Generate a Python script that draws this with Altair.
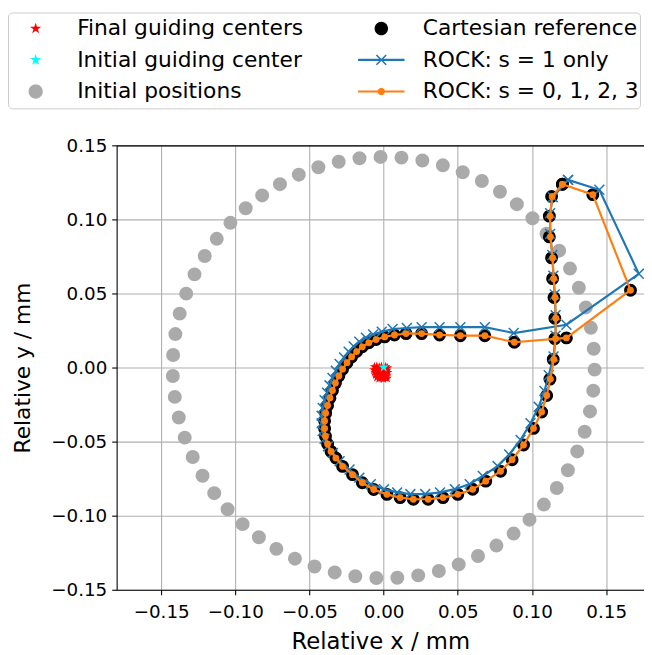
import math
import altair as alt
import pandas as pd

FONT = "DejaVu Sans"

# ---------------- data ----------------
# initial positions (gray circle)
init_x = [-0.0303, -0.0440, -0.0572, -0.0699, -0.0819, -0.0930, -0.1033, -0.1125, -0.1206, -0.1275,
          -0.1331, -0.1375, -0.1404, -0.1419, -0.1421, -0.1408, -0.1381, -0.1341, -0.1287, -0.1221,
          -0.1142, -0.1052, -0.0951, -0.0841, -0.0723, -0.0598, -0.0466, -0.0330, -0.0191, -0.0049,
          0.0092, 0.0233, 0.0372, 0.0506, 0.0636, 0.0760, 0.0876, 0.0983, 0.1080, 0.1167,
          0.1242, 0.1305, 0.1355, 0.1391, 0.1413, 0.1422, 0.1416, 0.1397, 0.1363, 0.1316,
          0.1256, 0.1183, 0.1098, 0.1003, 0.0898, 0.0784, 0.0662, 0.0533, 0.0399, 0.0261,
          0.0120, -0.0021, -0.0163]
init_y = [0.1389, 0.1352, 0.1302, 0.1238, 0.1162, 0.1075, 0.0977, 0.0869, 0.0753, 0.0629,
          0.0499, 0.0364, 0.0226, 0.0085, -0.0057, -0.0198, -0.0337, -0.0473, -0.0604, -0.0730,
          -0.0848, -0.0957, -0.1057, -0.1146, -0.1224, -0.1290, -0.1343, -0.1383, -0.1409, -0.1421,
          -0.1419, -0.1403, -0.1373, -0.1329, -0.1272, -0.1202, -0.1121, -0.1027, -0.0925, -0.0813,
          -0.0693, -0.0566, -0.0433, -0.0296, -0.0156, -0.0014, 0.0127, 0.0268, 0.0406, 0.0539,
          0.0668, 0.0789, 0.0903, 0.1008, 0.1103, 0.1187, 0.1259, 0.1318, 0.1365, 0.1398,
          0.1417, 0.1422, 0.1413]

# final guiding centers (red stars)
final_x = [-0.0062, -0.0046, -0.0030, -0.0015, 0.0000, 0.0014, 0.0026,
           -0.0066, -0.0051, -0.0036, -0.0021, -0.0007, 0.0008, 0.0022,
           -0.0060, -0.0045, -0.0029, -0.0014, 0.0001, 0.0016, 0.0028,
           -0.0054, -0.0038, -0.0023, -0.0009, 0.0005, 0.0020,
           -0.0046, -0.0031, -0.0016, -0.0002, 0.0012, 0.0024]
final_y = [0.0006, 0.0008, 0.0004, 0.0007, 0.0003, 0.0005, -0.0002,
           -0.0015, -0.0013, -0.0018, -0.0012, -0.0016, -0.0014, -0.0019,
           -0.0032, -0.0036, -0.0030, -0.0034, -0.0031, -0.0037, -0.0033,
           -0.0051, -0.0055, -0.0049, -0.0053, -0.0050, -0.0056,
           -0.0068, -0.0075, -0.0071, -0.0077, -0.0070, -0.0073]

# initial guiding center (cyan star)
gc0_x = [0.0000]
gc0_y = [0.0002]

# Cartesian reference (black dots)
cart_x = [0.1205, 0.1410, 0.1664, 0.1232, 0.0881, 0.0682, 0.0517, 0.0377, 0.0256, 0.0151,
          0.0073, 0.0007, -0.0051, -0.0100, -0.0144, -0.0182, -0.0216, -0.0247, -0.0277, -0.0302,
          -0.0325, -0.0345, -0.0362, -0.0378, -0.0391, -0.0398, -0.0398, -0.0392, -0.0378, -0.0355,
          -0.0322, -0.0277, -0.0210, -0.0144, -0.0067, 0.0022, 0.0111, 0.0200, 0.0300, 0.0400,
          0.0500, 0.0600, 0.0688, 0.0788, 0.0866, 0.0943, 0.1010, 0.1065, 0.1099, 0.1121,
          0.1143, 0.1154, 0.1154, 0.1148, 0.1139, 0.1132, 0.1117, 0.1117, 0.1132, 0.1205]
cart_y = [0.1237, 0.1167, 0.0522, 0.0200, 0.0171, 0.0215, 0.0215, 0.0220, 0.0229, 0.0229,
          0.0220, 0.0207, 0.0189, 0.0167, 0.0140, 0.0108, 0.0072, 0.0033, -0.0011, -0.0057,
          -0.0105, -0.0155, -0.0205, -0.0256, -0.0308, -0.0360, -0.0412, -0.0464, -0.0516, -0.0566,
          -0.0611, -0.0667, -0.0723, -0.0778, -0.0823, -0.0856, -0.0878, -0.0889, -0.0889, -0.0878,
          -0.0856, -0.0822, -0.0767, -0.0700, -0.0622, -0.0523, -0.0411, -0.0300, -0.0189, -0.0078,
          0.0055, 0.0195, 0.0333, 0.0473, 0.0600, 0.0740, 0.0882, 0.1022, 0.1155, 0.1237]

# ROCK: s = 1 only (blue, x markers)
rock1_x = [0.1243, 0.1454, 0.1720, 0.1232, 0.0877, 0.0682, 0.0517, 0.0377, 0.0256, 0.0156,
           0.0060, -0.0013, -0.0071, -0.0120, -0.0164, -0.0202, -0.0236, -0.0267, -0.0297, -0.0322,
           -0.0345, -0.0365, -0.0382, -0.0398, -0.0411, -0.0418, -0.0418, -0.0412, -0.0398, -0.0375,
           -0.0342, -0.0297, -0.0230, -0.0164, -0.0087, 0.0002, 0.0091, 0.0180, 0.0280, 0.0380,
           0.0480, 0.0580, 0.0668, 0.0768, 0.0846, 0.0923, 0.0990, 0.1045, 0.1084, 0.1113,
           0.1145, 0.1159, 0.1159, 0.1153, 0.1144, 0.1137, 0.1122, 0.1122, 0.1140, 0.1243]
rock1_y = [0.1267, 0.1200, 0.0633, 0.0289, 0.0233, 0.0273, 0.0273, 0.0273, 0.0273, 0.0267,
           0.0260, 0.0242, 0.0224, 0.0202, 0.0175, 0.0143, 0.0107, 0.0068, 0.0024, -0.0022,
           -0.0070, -0.0120, -0.0170, -0.0221, -0.0273, -0.0325, -0.0377, -0.0429, -0.0481, -0.0531,
           -0.0576, -0.0632, -0.0688, -0.0743, -0.0788, -0.0821, -0.0843, -0.0854, -0.0854, -0.0843,
           -0.0821, -0.0787, -0.0732, -0.0665, -0.0587, -0.0488, -0.0376, -0.0265, -0.0158, -0.0052,
           0.0075, 0.0215, 0.0353, 0.0493, 0.0620, 0.0760, 0.0902, 0.1042, 0.1150, 0.1267]

# ROCK: s = 0, 1, 2, 3 (orange, dot markers)
rock_x = [0.1205, 0.1410, 0.1664, 0.1232, 0.0881, 0.0682, 0.0517, 0.0377, 0.0256, 0.0151,
          0.0073, 0.0007, -0.0051, -0.0100, -0.0144, -0.0182, -0.0216, -0.0247, -0.0277, -0.0302,
          -0.0325, -0.0345, -0.0362, -0.0378, -0.0391, -0.0398, -0.0398, -0.0392, -0.0378, -0.0355,
          -0.0322, -0.0277, -0.0210, -0.0144, -0.0067, 0.0022, 0.0111, 0.0200, 0.0300, 0.0400,
          0.0500, 0.0600, 0.0688, 0.0788, 0.0866, 0.0943, 0.1010, 0.1065, 0.1099, 0.1124,
          0.1147, 0.1159, 0.1160, 0.1155, 0.1146, 0.1139, 0.1124, 0.1122, 0.1136, 0.1205]
rock_y = [0.1237, 0.1167, 0.0522, 0.0200, 0.0171, 0.0215, 0.0215, 0.0220, 0.0229, 0.0229,
          0.0220, 0.0207, 0.0189, 0.0167, 0.0140, 0.0108, 0.0072, 0.0033, -0.0011, -0.0057,
          -0.0105, -0.0155, -0.0205, -0.0256, -0.0308, -0.0360, -0.0412, -0.0464, -0.0516, -0.0566,
          -0.0611, -0.0667, -0.0723, -0.0778, -0.0823, -0.0856, -0.0878, -0.0889, -0.0889, -0.0878,
          -0.0856, -0.0822, -0.0767, -0.0700, -0.0622, -0.0523, -0.0411, -0.0300, -0.0189, -0.0078,
          0.0055, 0.0195, 0.0333, 0.0473, 0.0600, 0.0740, 0.0882, 0.1022, 0.1155, 0.1237]

tick_vals = [-0.15, -0.10, -0.05, 0.00, 0.05, 0.10, 0.15]

# legend entries (column-major for the 2-column legend)
legend_labels = ["Final guiding centers", "Initial guiding center", "Initial positions",
                 "Cartesian reference", "ROCK: s = 1 only", "ROCK: s = 0, 1, 2, 3"]
legend_colors = ["#ff0000", "#00ffff", "#aaaaaa", "#000000", "#1f77b4", "#ff7f0e"]

# ---------------- symbol paths (styling) ----------------
U = 15.0  # px per path unit for legend symbols (symbolSize 900)


def _orient(pts):
    a = 0.0
    for (x0, y0), (x1, y1) in zip(pts, pts[1:] + pts[:1]):
        a += x0 * y1 - x1 * y0
    return pts if a > 0 else pts[::-1]


def _sub(pts):
    pts = _orient(pts)
    return "M" + "L".join(f"{x:.4f},{y:.4f}" for x, y in pts) + "Z"


def _circle(r, n=32):
    return _sub([(r * math.cos(2 * math.pi * i / n), r * math.sin(2 * math.pi * i / n)) for i in range(n)])


def _star(R):
    pts = []
    for k in range(10):
        a = -math.pi / 2 + k * math.pi / 5
        rr = R if k % 2 == 0 else R * 0.382
        pts.append((rr * math.cos(a), rr * math.sin(a)))
    return _sub(pts)


def _bar(L, W, ang):
    c, s = math.cos(ang), math.sin(ang)
    pts = [(-L, -W), (L, -W), (L, W), (-L, W)]
    return _sub([(x * c - y * s, x * s + y * c) for x, y in pts])


# zero-area vertical extent so every legend row has the same height
EXTENT = f"M0,{-15.5 / U:.4f}L0,{15.5 / U:.4f}"

STAR = _star(1.0)
XMARK = "M-1,-1L1,1M-1,1L1,-1"
LINE = _bar(23.5 / U, 1.1 / U, 0.0)
legend_paths = [
    EXTENT + _star(6.0 / U),
    EXTENT + _star(6.0 / U),
    EXTENT + _circle(7.2 / U),
    EXTENT + _circle(6.8 / U),
    EXTENT + LINE + _bar(7.0 / U, 0.8 / U, math.pi / 4) + _bar(7.0 / U, 0.8 / U, -math.pi / 4),
    EXTENT + LINE + _circle(3.7 / U),
]

# ---------------- frames ----------------
def frame(xs, ys):
    return pd.DataFrame({"x": xs, "y": ys, "i": list(range(len(xs)))})


df_init = frame(init_x, init_y)
df_final = frame(final_x, final_y)
df_gc0 = frame(gc0_x, gc0_y)
df_cart = frame(cart_x, cart_y)
df_rock1 = frame(rock1_x, rock1_y)
df_rock = frame(rock_x, rock_y)
df_leg = pd.DataFrame({"label": legend_labels})

xs = alt.Scale(domain=[-0.18, 0.1755], nice=False, zero=False)
ys = alt.Scale(domain=[-0.15, 0.15], nice=False, zero=False)

X = alt.X("x:Q", scale=xs, axis=alt.Axis(values=tick_vals, format=".2f", title="Relative x / mm",
                                          labelPadding=8, titlePadding=10))
Y = alt.Y("y:Q", scale=ys, axis=alt.Axis(values=tick_vals, format=".2f", title="Relative y / mm",
                                          labelPadding=5, titlePadding=17, titleFontSize=22))

gray = alt.Chart(df_init).mark_circle(size=200, color="#aaaaaa", opacity=1).encode(x=X, y=Y)
red = alt.Chart(df_final).mark_point(shape=STAR, size=100, filled=True, color="#ff0000",
                                     opacity=1, strokeWidth=0).encode(x=X, y=Y)
cyan = alt.Chart(df_gc0).mark_point(shape=STAR, size=120, filled=True, color="#00ffff",
                                    opacity=1, strokeWidth=0).encode(x=X, y=Y)
black = alt.Chart(df_cart).mark_circle(size=170, color="#000000", opacity=1).encode(x=X, y=Y)
blue_line = alt.Chart(df_rock1).mark_line(color="#1f77b4", strokeWidth=2.2).encode(
    x=X, y=Y, order=alt.Order("i:Q"))
blue_x = alt.Chart(df_rock1).mark_point(shape=XMARK, size=100, filled=False, color="#1f77b4",
                                        strokeWidth=1.5, opacity=1).encode(x=X, y=Y)
orange_line = alt.Chart(df_rock).mark_line(color="#ff7f0e", strokeWidth=2.2).encode(
    x=X, y=Y, order=alt.Order("i:Q"))
orange_pts = alt.Chart(df_rock).mark_circle(size=48, color="#ff7f0e", opacity=1).encode(x=X, y=Y)

inner = alt.layer(gray, red, cyan, black, blue_line, blue_x, orange_line, orange_pts)

top_axis = alt.Chart(df_init).mark_point(opacity=0).encode(
    x=alt.X("x:Q", scale=xs, axis=alt.Axis(orient="top", labels=False, ticks=False, grid=False,
                                           domain=True, title=None, domainColor="black",
                                           domainWidth=1.1)))

leg = alt.Legend(title=None, orient="none", legendX=-110, legendY=-134.5, columns=2,
                 columnPadding=52, rowPadding=0, symbolSize=900, symbolOffset=12, labelOffset=27,
                 labelFont=FONT, labelFontSize=22, labelColor="black", labelLimit=400,
                 padding=1, strokeColor="#cccccc", cornerRadius=4, fillColor="white",
                 symbolStrokeWidth=0, symbolOpacity=1)

legend_layer = alt.Chart(df_leg).mark_point(filled=True, opacity=0).encode(
    color=alt.Color("label:N", scale=alt.Scale(domain=legend_labels, range=legend_colors), legend=leg),
    shape=alt.Shape("label:N", scale=alt.Scale(domain=legend_labels, range=legend_paths), legend=leg),
)

chart = alt.layer(inner, top_axis, legend_layer).resolve_axis(x="independent").properties(
    width=534, height=450,
    padding={"left": 110, "top": 135, "right": 0, "bottom": 62},
    autosize=alt.AutoSizeParams(type="none"),
).configure_view(stroke=None).configure_axis(
    grid=True, gridColor="#b0b0b0", gridWidth=1.1,
    domainColor="black", domainWidth=1.1,
    tickColor="black", tickWidth=1.1, tickSize=5,
    labelFont=FONT, labelFontSize=18.5, labelColor="black",
    titleFont=FONT, titleFontSize=23, titleColor="black", titleFontWeight="normal",
)

chart.save("out.html", embed_options={"renderer": "svg", "actions": False})
